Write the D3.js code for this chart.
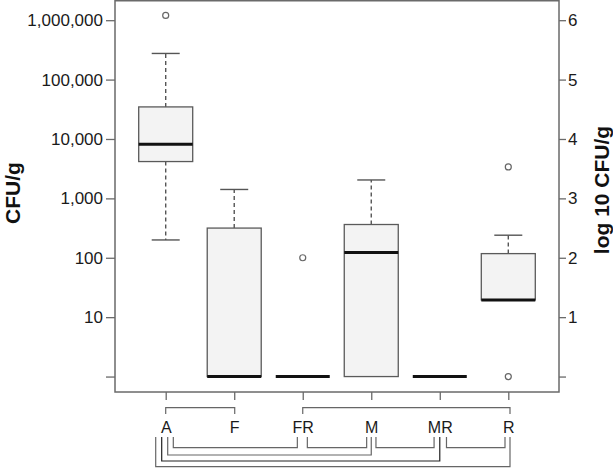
<!DOCTYPE html>
<html>
<head>
<meta charset="utf-8">
<script src="https://cdn.jsdelivr.net/npm/d3@7"></script>
<style>
  html, body { margin: 0; padding: 0; background: #fff; }
  svg { display: block; font-family: "Liberation Sans", Arial, sans-serif; }
</style>
</head>
<body>
<svg id="chart" width="613" height="468"></svg>
<script>
// ---- data (log10 CFU/g) ----
const categories  = ["A", "F", "FR", "M", "MR", "R"];
const whiskerLow  = [2.30, 0, 0, 0, 0, 1.29];
const q1          = [3.62, 0, 0, 0, 0, 1.29];
const medians     = [3.91, 0, 0, 2.09, 0, 1.29];
const q3          = [4.54, 2.50, 0, 2.56, 0, 2.07];
const whiskerHigh = [5.44, 3.15, 0, 3.31, 0, 2.38];
const outliers    = [[6.08], [], [2.00], [], [], [3.53, 0]];
const tickValues  = [0, 1, 2, 3, 4, 5, 6];
const cfuLabels   = ["", "10", "100", "1,000", "10,000", "100,000", "1,000,000"];
const logLabels   = ["", "1", "2", "3", "4", "5", "6"];
const topBrackets    = [["A", "F"], ["FR", "R"]];
const bottomBrackets = [["A", "FR"], ["FR", "M"], ["M", "MR"], ["MR", "R"], ["A", "M"], ["A", "MR"], ["A", "R"]];

// ---- layout ----
const svg = d3.select("#chart");
const L = 115, R = 559, T = 0.75, B = 392;
const x = d3.scalePoint().domain(categories).range([L, R]).padding(0.74);
const y = d3.scaleLinear().domain([-0.26, 6.34]).range([B, 0]);
const gray = "#6a6a6a";

// axes
const left = svg.append("g").attr("transform", `translate(${L},0)`)
  .call(d3.axisLeft(y).tickValues(tickValues).tickFormat((d, i) => cfuLabels[i]).tickSize(9).tickPadding(3));
const right = svg.append("g").attr("transform", `translate(${R},0)`)
  .call(d3.axisRight(y).tickValues(tickValues).tickFormat((d, i) => logLabels[i]).tickSize(7).tickPadding(2));
const bottom = svg.append("g").attr("transform", `translate(0,${B})`)
  .call(d3.axisBottom(x).tickSize(8).tickPadding(21.3));
[left, right, bottom].forEach(g => {
  g.select(".domain").remove();
  g.selectAll(".tick line").attr("stroke", gray).attr("stroke-width", 1.3);
  g.selectAll(".tick text").attr("fill", "#1a1a1a").attr("font-family", "Liberation Sans, Arial, sans-serif");
});
left.selectAll(".tick text").attr("font-size", 17);
right.selectAll(".tick text").attr("font-size", 17);
bottom.selectAll(".tick text").attr("font-size", 16);

// frame
svg.append("rect").attr("x", L).attr("y", T).attr("width", R - L).attr("height", B - T)
  .attr("fill", "none").attr("stroke", gray).attr("stroke-width", 1.5);

// boxes
const boxW = 54, capW = 28;
const plot = svg.append("g");
categories.forEach((c, i) => {
  const cx = x(c);
  const g = plot.append("g");
  if (whiskerHigh[i] > q3[i]) {
    g.append("line").attr("x1", cx).attr("x2", cx).attr("y1", y(q3[i])).attr("y2", y(whiskerHigh[i]))
      .attr("stroke", "#555").attr("stroke-width", 1.4).attr("stroke-dasharray", "4,3");
    g.append("line").attr("x1", cx - capW / 2).attr("x2", cx + capW / 2)
      .attr("y1", y(whiskerHigh[i])).attr("y2", y(whiskerHigh[i]))
      .attr("stroke", "#555").attr("stroke-width", 1.4);
  }
  if (whiskerLow[i] < q1[i]) {
    g.append("line").attr("x1", cx).attr("x2", cx).attr("y1", y(q1[i])).attr("y2", y(whiskerLow[i]))
      .attr("stroke", "#555").attr("stroke-width", 1.4).attr("stroke-dasharray", "4,3");
    g.append("line").attr("x1", cx - capW / 2).attr("x2", cx + capW / 2)
      .attr("y1", y(whiskerLow[i])).attr("y2", y(whiskerLow[i]))
      .attr("stroke", "#555").attr("stroke-width", 1.4);
  }
  if (q3[i] > q1[i]) {
    g.append("rect").attr("x", cx - boxW / 2).attr("y", y(q3[i]))
      .attr("width", boxW).attr("height", y(q1[i]) - y(q3[i]))
      .attr("fill", "#f3f3f3").attr("stroke", "#5a5a5a").attr("stroke-width", 1.3);
  }
  g.append("line").attr("x1", cx - boxW / 2).attr("x2", cx + boxW / 2)
    .attr("y1", y(medians[i])).attr("y2", y(medians[i]))
    .attr("stroke", "#111").attr("stroke-width", 3);
  outliers[i].forEach(v => {
    g.append("circle").attr("cx", cx).attr("cy", y(v)).attr("r", 3)
      .attr("fill", "#fff").attr("stroke", "#666").attr("stroke-width", 1.2);
  });
});

// brackets (significance annotations)
const br = svg.append("g").attr("fill", "none").attr("stroke", "#666").attr("stroke-width", 1.2);
const topY = 407.7, topLeg = 414;
topBrackets.forEach(([a, b]) => {
  const x1 = x(a), x2 = x(b) + (b === "R" ? 1.7 : 0.5);
  br.append("path").attr("d", `M${x1},${topLeg}V${topY}H${x2}V${topLeg}`);
});
// offsets so nested bracket legs sit beside each other under the labels
const lowLayout = {
  "A-FR": [7.6, -5.4, 447.7], "FR-M": [4.6, -4.6, 447.7], "M-MR": [4.7, -5.7, 447.7],
  "MR-R": [6.7, -3.3, 447.7], "A-M": [2, 0, 455], "A-MR": [-4, 0, 461], "A-R": [-10, 1.7, 466.7]
};
const legTop = 437;
bottomBrackets.forEach(([a, b]) => {
  const [dl, dr, yy] = lowLayout[a + "-" + b];
  br.append("path").attr("d", `M${x(a) + dl},${legTop}V${yy}H${x(b) + dr}V${legTop}`)
    .attr("stroke", a + "-" + b === "A-MR" ? "#222" : "#666");
});

// axis titles
svg.append("text").attr("transform", "translate(20,193) rotate(-90)")
  .attr("text-anchor", "middle").attr("font-size", 21).attr("font-weight", "bold").attr("fill", "#111")
  .text("CFU/g");
svg.append("text").attr("transform", "translate(609,190) rotate(-90)")
  .attr("text-anchor", "middle").attr("font-size", 21).attr("font-weight", "bold").attr("fill", "#111")
  .text("log 10 CFU/g");
</script>
</body>
</html>
